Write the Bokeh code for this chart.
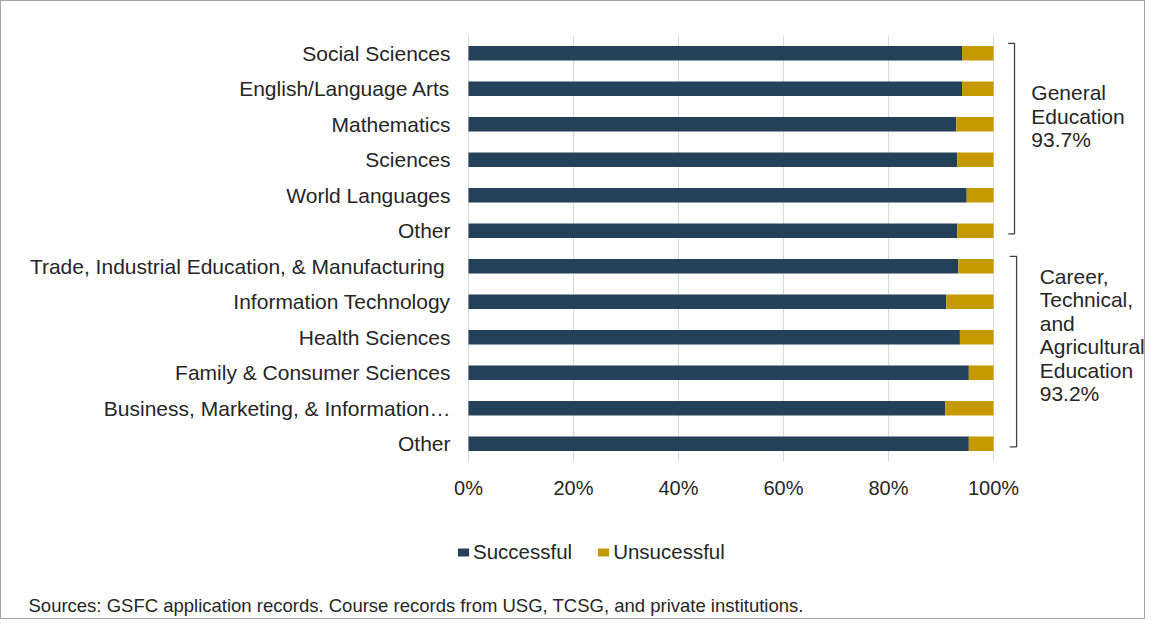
from bokeh.plotting import figure
from bokeh.models import (ColumnDataSource, Range1d, FixedTicker, Legend, LegendItem,
                          Label, LinearAxis)
from bokeh.embed import file_html
from bokeh.resources import INLINE

# ---- data ----
categories = ["Social Sciences", "English/Language Arts", "Mathematics", "Sciences",
              "World Languages", "Other",
              "Trade, Industrial Education, & Manufacturing ", "Information Technology",
              "Health Sciences", "Family & Consumer Sciences",
              "Business, Marketing, & Information\u2026", "Other"]
successful = [94.0, 94.0, 92.9, 93.1, 94.9, 93.1, 93.3, 91.0, 93.6, 95.3, 90.8, 95.3]
unsuccessful = [round(100 - s, 1) for s in successful]
series_names = ["Successful", "Unsucessful"]
x_ticks = [0, 20, 40, 60, 80, 100]
group_names = ["General\nEducation", "Career,\nTechnical,\nand\nAgricultural\nEducation"]
group_rate = ["93.7%", "93.2%"]
group_first = [0, 6]
group_last = [5, 11]
source_note = "Sources: GSFC application records. Course records from USG, TCSG, and private institutions."

DARK = "#234159"
GOLD = "#C49A00"
TXT = "#262626"
FONT = "Liberation Sans"

n = len(categories)
ys = list(range(n))
src = ColumnDataSource(dict(y=ys, s=successful, u=unsuccessful))

# canvas geometry (frame covers the whole canvas; axes are pinned inside it)
W, H = 1145, 619
X0_PX, Y0_PX = 467, 34          # canvas position of 0% and of the top of the category band
PX_X, PX_Y = 5.25, 35.5         # pixels per percent, pixels per category
x_range = Range1d(-X0_PX / PX_X, (W - X0_PX) / PX_X)
y_range = Range1d(-0.5 + (H - Y0_PX) / PX_Y, -0.5 - Y0_PX / PX_Y)

p = figure(width=W, height=H, output_backend="svg", toolbar_location=None,
           x_range=x_range, y_range=y_range,
           x_axis_location=None, y_axis_location=None,
           min_border=0, min_border_left=0, min_border_right=0,
           min_border_top=0, min_border_bottom=0,
           background_fill_color="white", border_fill_color="white")
p.styles = {"border": "1px solid #a6a6a6"}
p.outline_line_color = None
p.grid.visible = False

# vertical gridlines at the tick values, spanning the category band only
p.segment(x0=x_ticks, x1=x_ticks, y0=[-0.5] * len(x_ticks), y1=[n - 0.5] * len(x_ticks),
          line_color="#d9d9d9", line_width=1)

rs = p.hbar_stack(["s", "u"], y="y", height=0.41, color=[DARK, GOLD], line_color=None,
                  source=src)

# x axis pinned at the bottom of the category band
xaxis = LinearAxis(fixed_location=n - 0.5, ticker=FixedTicker(ticks=x_ticks),
                   major_label_overrides={t: f"{t}%" for t in x_ticks},
                   axis_line_color=None, major_tick_line_color=None,
                   minor_tick_line_color=None, major_tick_out=0, major_tick_in=0,
                   minor_tick_out=0, minor_tick_in=0,
                   major_label_text_font=FONT, major_label_text_font_size="20px",
                   major_label_text_color=TXT, major_label_standoff=15)
p.add_layout(xaxis, "below")

# category axis pinned at 0%
yaxis = LinearAxis(fixed_location=0, ticker=FixedTicker(ticks=ys),
                   major_label_overrides={i: c for i, c in enumerate(categories)},
                   axis_line_color=None, major_tick_line_color=None,
                   minor_tick_line_color=None, major_tick_out=0, major_tick_in=0,
                   minor_tick_out=0, minor_tick_in=0,
                   major_label_text_font=FONT, major_label_text_font_size="21px",
                   major_label_text_color=TXT, major_label_standoff=18)
p.add_layout(yaxis, "left")

# brackets and group labels
bx = [(104.0, 102.8, 107.2), (104.4, 103.1, 108.8)]
for gi in range(len(group_names)):
    top = group_first[gi] - 0.28
    bot = group_last[gi] + 0.09
    xv, xt, xl = bx[gi]
    p.line([xt, xv, xv, xt], [top, top, bot, bot], line_color="#404040", line_width=1.3)
    mid = (group_first[gi] + group_last[gi]) / 2
    p.add_layout(Label(x=xl, y=mid - (0.72 if gi == 0 else 0.56),
                       text=group_names[gi] + "\n" + group_rate[gi],
                       text_font=FONT, text_font_size="21px", text_color=TXT,
                       text_baseline="middle", text_align="left", text_line_height=1.02))

# legend
legend = Legend(items=[LegendItem(label=series_names[i], renderers=[rs[i]]) for i in range(2)],
                orientation="horizontal", location=(455, 56),
                label_text_font=FONT, label_text_font_size="20.5px", label_text_color=TXT,
                glyph_width=14, glyph_height=10, label_standoff=3, spacing=24,
                padding=0, margin=0, border_line_color=None, background_fill_alpha=0)
p.add_layout(legend, "center")

# source note
p.add_layout(Label(x=27, y=15, x_units="screen", y_units="screen", text=source_note,
                   text_font=FONT, text_font_size="18.5px", text_color=TXT,
                   text_baseline="middle", text_align="left"))

open("out.html", "w").write(file_html(p, INLINE))
